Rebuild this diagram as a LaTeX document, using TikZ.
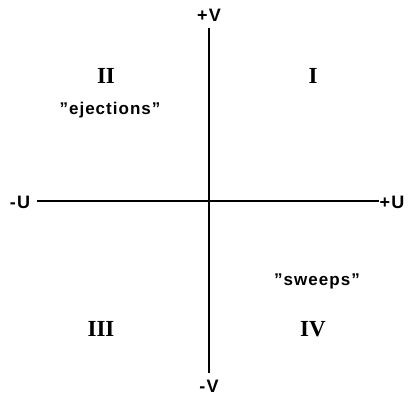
\documentclass[tikz,border=0pt]{standalone}
\usepackage{fontspec}
\setmainfont{Liberation Serif}
\setsansfont{Liberation Sans}[LetterSpace=6]
\begin{document}
\begin{tikzpicture}[x=1pt,y=-1pt,
  axis/.style={line width=1.4pt,black},
  axlab/.style={font=\sffamily\bfseries\fontsize{18}{18}\selectfont},
  roman/.style={font=\rmfamily\bfseries\fontsize{23}{23}\selectfont},
  quad/.style={font=\sffamily\bfseries\fontsize{17}{17}\selectfont}]
\useasboundingbox (0,0) rectangle (408,396);
\node[axlab] (pv) at (209,15) {+V};
\node[axlab] (mv) at (209,386) {-V};
\node[axlab] (mu) at (20,202) {-U};
\node[axlab] (pu) at (392,202) {+U};
\coordinate (top) at (209,28);
\coordinate (bot) at (209,373);
\coordinate (left) at (37,201);
\coordinate (right) at (379,201);
\draw[axis] (top) -- (bot);
\draw[axis] (left) -- (right);
\node[roman] (q2) at (106,76) {II};
\node[roman] (q1) at (313,76) {I};
\node[roman] (q3) at (101,329) {III};
\node[roman] (q4) at (313,329) {IV};
\node[quad] (ej) at (110,110) {\symbol{34}ejections\symbol{34}};
\node[quad] (sw) at (317,281) {\symbol{34}sweeps\symbol{34}};
\end{tikzpicture}
\end{document}
